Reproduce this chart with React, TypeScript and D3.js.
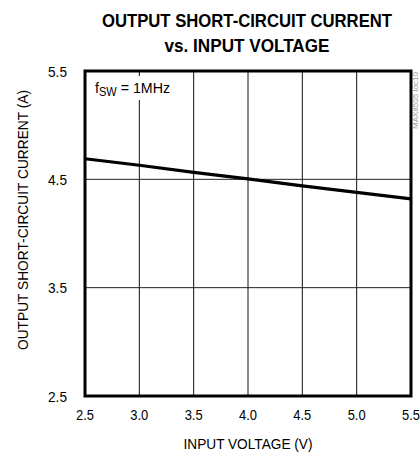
import React from "react";
import * as d3 from "d3";

const voltage = [2.5, 3.0, 3.5, 4.0, 4.5, 5.0, 5.5];
const current = [4.69, 4.63, 4.565, 4.505, 4.44, 4.38, 4.32];
const xTicks = [2.5, 3.0, 3.5, 4.0, 4.5, 5.0, 5.5];
const yTicks = [2.5, 3.5, 4.5, 5.5];

const FONT = "'Liberation Sans Narrow', 'Arial Narrow', 'Liberation Sans', Arial, sans-serif";

// Condensed text: glyphs squeezed horizontally to a fixed width
const Narrow = ({ x, y, w, anchor = "middle", size, weight, children, fill = "#000" }: any) => (
  <text
    x={x}
    y={y}
    textAnchor={anchor}
    fontSize={size}
    fontWeight={weight}
    fill={fill}
    textLength={w}
    lengthAdjust="spacingAndGlyphs"
  >
    {children}
  </text>
);

export default function App() {
  const W = 420, H = 455;
  const left = 85, right = 411, top = 71, bottom = 396;
  const x = d3.scaleLinear().domain([2.5, 5.5]).range([left, right]);
  const y = d3.scaleLinear().domain([2.5, 5.5]).range([bottom, top]);
  const line = d3.line<number>().x((_, i) => x(voltage[i])).y((d) => y(d));

  return (
    <svg width={W} height={H} style={{ position: "absolute", left: 0, top: 0 }} fontFamily={FONT}>
      <rect width={W} height={H} fill="#fff" />
      <Narrow x={247} y={27} w={290} size={19} weight="bold">OUTPUT SHORT-CIRCUIT CURRENT</Narrow>
      <Narrow x={247} y={52} w={165} size={19} weight="bold">vs. INPUT VOLTAGE</Narrow>

      {xTicks.slice(1, -1).map((t) => (
        <line key={"vx" + t} x1={x(t)} x2={x(t)} y1={top} y2={bottom} stroke="#111" strokeWidth={1} />
      ))}
      {yTicks.slice(1, -1).map((t) => (
        <line key={"hy" + t} x1={left} x2={right} y1={y(t)} y2={y(t)} stroke="#222" strokeWidth={1} />
      ))}

      <rect x={88} y={76} width={82} height={24} fill="#fff" />
      <text x={95} y={93} fontSize={15.5} textLength={75} lengthAdjust="spacingAndGlyphs">
        f<tspan fontSize={12} dy={3}>SW</tspan><tspan dy={-3}> = 1MHz</tspan>
      </text>

      <path d={line(current) ?? ""} fill="none" stroke="#000" strokeWidth={3.2} />

      <rect x={left} y={top} width={right - left} height={bottom - top} fill="none" stroke="#000" strokeWidth={3} />

      {yTicks.map((t) => (
        <Narrow key={"yl" + t} x={67} y={y(t) + 5.5} w={19} anchor="end" size={15.5}>{t.toFixed(1)}</Narrow>
      ))}
      {xTicks.map((t) => (
        <Narrow key={"xl" + t} x={x(t)} y={420} w={18} size={15.5}>{t.toFixed(1)}</Narrow>
      ))}

      <Narrow x={248} y={449} w={129} size={15.5}>INPUT VOLTAGE (V)</Narrow>
      <g transform="translate(28,220) rotate(-90)">
        <Narrow x={0} y={0} w={260} size={15.5}>OUTPUT SHORT-CIRCUIT CURRENT (A)</Narrow>
      </g>

      <text transform="translate(418,72) rotate(-90)" textAnchor="end" fontSize={8} fill="#999">MAX8505 toc10</text>
    </svg>
  );
}
